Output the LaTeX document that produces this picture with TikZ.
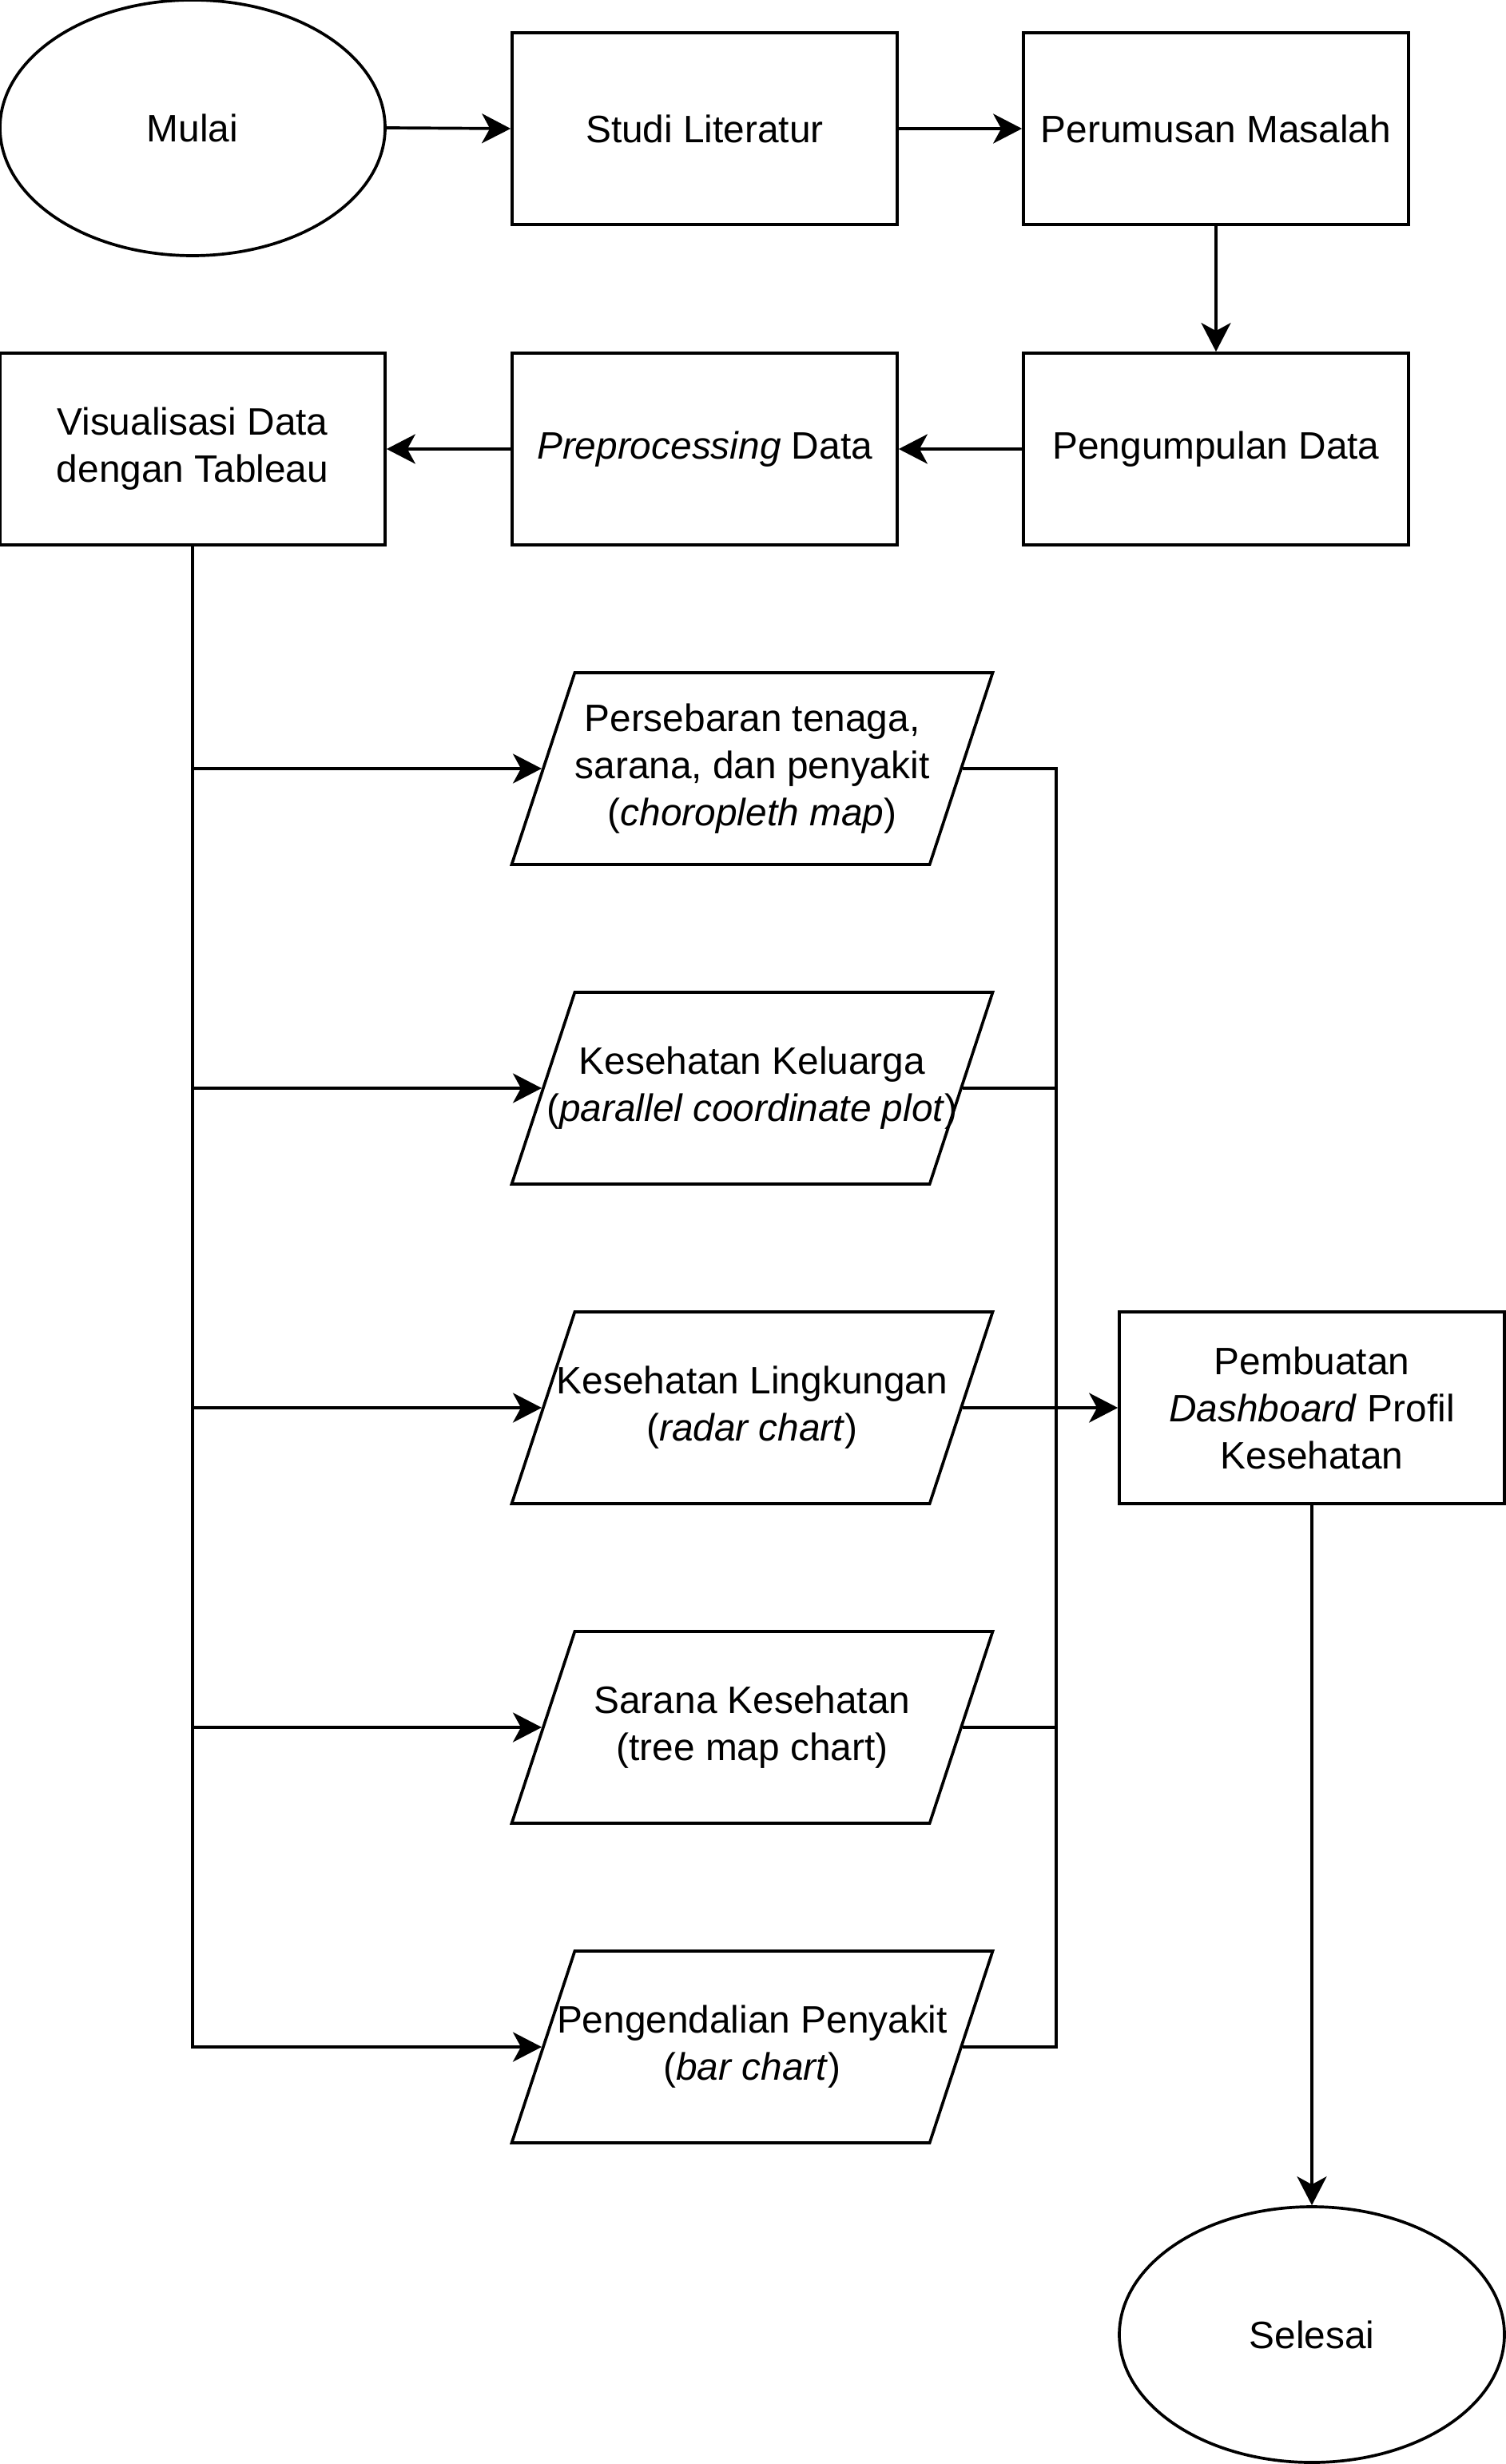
\documentclass[tikz,border=0pt]{standalone}
\usepackage{fontspec}
\setmainfont{Liberation Sans}
\usetikzlibrary{arrows.meta,positioning,shapes.geometric}

\begin{document}
\begin{tikzpicture}[
  font=\fontsize{13.6}{16.8}\selectfont,
  line width=1.05pt,
  >={Stealth[length=0.36cm,width=0.37cm,inset=0.1cm]},
  term/.style ={draw,ellipse,minimum width=4.82cm,minimum height=3.2cm,
                inner sep=0pt,align=center},
  proc/.style ={draw,rectangle,minimum width=4.82cm,minimum height=2.4cm,
                inner sep=0pt,align=center},
  dat/.style  ={draw,trapezium,trapezium left angle=71.8,
                trapezium right angle=108.2,trapezium stretches body=true,
                minimum width=6.02cm,text height=1.2cm,text depth=1.2cm,
                inner sep=0pt},
  txt/.style  ={align=center,inner sep=0pt},
]
\useasboundingbox (0,0) rectangle (18.84,-30.84);

%% =====================================================
%%  First row
%% =====================================================
\node[term] (mulai) at (2.41,-1.60)  {Mulai};
\node[proc] (studi) at (8.82,-1.61)  {Studi Literatur};
\node[proc] (rumus) at (15.22,-1.61) {Perumusan Masalah};

\draw[->] (mulai.east) -- (studi.west);
\draw[->] (studi.east) -- (rumus.west);

%% =====================================================
%%  Second row (right to left)
%% =====================================================
\node[proc] (kumpul) at (15.22,-5.62) {Pengumpulan Data};
\node[proc] (prepro) at (8.82,-5.62)  {\textit{Preprocessing} Data};
\node[proc] (visual) at (2.41,-5.62)  {Visualisasi Data\\dengan Tableau};

\draw[->] (rumus.south)  -- (kumpul.north);
\draw[->] (kumpul.west)  -- (prepro.east);
\draw[->] (prepro.west)  -- (visual.east);

%% =====================================================
%%  Visualisations (outline + text on top)
%% =====================================================
\node[dat] (v1) at (9.415,-9.62)  {};
\node[dat] (v2) at (9.415,-13.62) {};
\node[dat] (v3) at (9.415,-17.62) {};
\node[dat] (v4) at (9.415,-21.62) {};
\node[dat] (v5) at (9.415,-25.62) {};

\node[txt] (v1t) at (v1) {Persebaran tenaga,\\sarana, dan penyakit\\(\textit{choropleth map})};
\node[txt] (v2t) at (v2) {Kesehatan Keluarga\\(\textit{parallel coordinate plot})};
\node[txt] (v3t) at (v3) {Kesehatan Lingkungan\\(\textit{radar chart})};
\node[txt] (v4t) at (v4) {Sarana Kesehatan\\(tree map chart)};
\node[txt] (v5t) at (v5) {Pengendalian Penyakit\\(\textit{bar chart})};

\draw[->] (visual.south) |- (v1.west);
\draw[->] (visual.south) |- (v2.west);
\draw[->] (visual.south) |- (v3.west);
\draw[->] (visual.south) |- (v4.west);
\draw[->] (visual.south) |- (v5.west);

%% =====================================================
%%  Dashboard and end
%% =====================================================
\node[proc] (dash)    at (16.42,-17.62) {Pembuatan\\\textit{Dashboard} Profil\\Kesehatan};
\node[term] (selesai) at (16.42,-29.22) {Selesai};

\coordinate (rail) at (13.22,0);
\draw (v1.east) -| (rail |- v5.east) -- (v5.east);
\draw (v2.east) -- (v2.east -| rail);
\draw (v4.east) -- (v4.east -| rail);
\draw[->] (v3.east) -- (dash.west);
\draw[->] (dash.south) -- (selesai.north);

\end{tikzpicture}
\end{document}
